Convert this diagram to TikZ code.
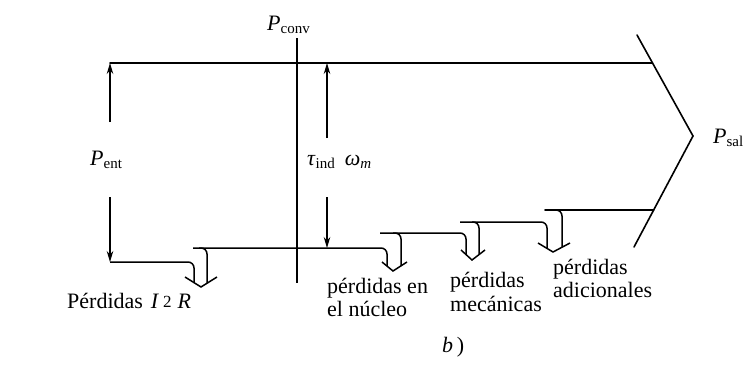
\documentclass[tikz,border=0pt]{standalone}
\usepackage{fontspec}
\setmainfont{Liberation Serif}
\usetikzlibrary{arrows.meta}
\newcommand\lsub[1]{\raisebox{-3pt}{\fontsize{15}{15}\selectfont #1}}
\begin{document}
\begin{tikzpicture}[x=1pt,y=-1pt,
  flow/.style={line width=1.6pt, line cap=round},
  loss/.style={line width=1.5pt, rounded corners=6pt},
  vhead/.style={line width=1.5pt, line join=miter},
  thinline/.style={line width=1.2pt},
  pa/.style={line width=1.1pt, -{Stealth[length=11pt,width=6.5pt]}},
  lbl/.style={inner sep=0pt, anchor=base west, font=\fontsize{22}{23.5}\selectfont, align=left}]
\useasboundingbox[fill=white] (0,0) rectangle (747,373);
% main outline
\coordinate (tl) at (110,63);
\coordinate (tr) at (652.4,63);
\coordinate (cu) at (637,35);
\coordinate (tip) at (693,136);
\coordinate (cl) at (634,247);
\draw[flow] (tl) -- (tr);
\draw[flow] (cu) -- (tip) -- (cl);
% P_conv line
\coordinate (cv1) at (297,38);
\coordinate (cv2) at (297,283);
\draw[thinline] (cv1) -- (cv2);
% input arrows
\coordinate (pe1) at (110,122);
\coordinate (pe2) at (110,197);
\coordinate (bl) at (110,262);
\draw[pa] (pe1) -- (tl);
\draw[pa] (pe2) -- (bl);
% torque arrows
\coordinate (ta1) at (327,138);
\coordinate (ta0) at (327,63);
\coordinate (ta2) at (327,197);
\coordinate (ta3) at (327,248);
\draw[pa] (ta1) -- (ta0);
\draw[pa] (ta2) -- (ta3);
% loss 1: I^2R
\draw[loss] (bl) -| (194,282.6);
\draw[loss] (199,248) -| (207,283.2);
\draw[vhead] (185,277) -- (201,287) -- (217,277);
% level 248 line and loss 2: core
\draw[loss] (193,248) -| (387,266.1);
\draw[loss] (393,233) -| (401,265.9);
\draw[vhead] (382,262) -- (393,271) -- (407,262);
% level 233 line and loss 3: mechanical
\draw[loss] (380,233) -| (466,254.5);
\draw[loss] (472,222) -| (479,254.6);
\draw[vhead] (461,250) -- (472,260) -- (485,250);
% level 222 line and loss 4: stray
\draw[loss] (460,222) -| (547,248.4);
\draw[loss] (553,210) -| (562,247.2);
\draw[vhead] (538,243) -- (553,252) -- (570,243);
% output level line
\coordinate (bs) at (545,210);
\coordinate (be) at (653.7,210);
\draw[flow] (bs) -- (be);
% labels
\node[lbl] (pconv) at (267,30) {\textit{P}\lsub{conv}};
\node[lbl] (pent) at (90,165) {\textit{P}\lsub{ent}};
\node[lbl] (tauw) at (307,165) {\textit{τ}\lsub{ind}\hspace{10pt}\textit{ω}\lsub{\textit{m}}};
\node[lbl] (psal) at (713,143) {\textit{P}\lsub{sal}};
\node[lbl] (l1) at (67,308) {Pérdidas\hspace{8pt}\textit{I}\hspace{4pt}\raisebox{1pt}{\fontsize{17}{17}\selectfont 2}\hspace{6pt}\textit{R}};
\node[lbl] (l2) at (327,316.5) {pérdidas en\\el núcleo};
\node[lbl] (l3) at (450,311) {pérdidas\\mecánicas};
\node[lbl] (l4) at (553,297.5) {pérdidas\\adicionales};
\node[lbl] (cap) at (442,352) {\textit{b}\,)};
\end{tikzpicture}
\end{document}
